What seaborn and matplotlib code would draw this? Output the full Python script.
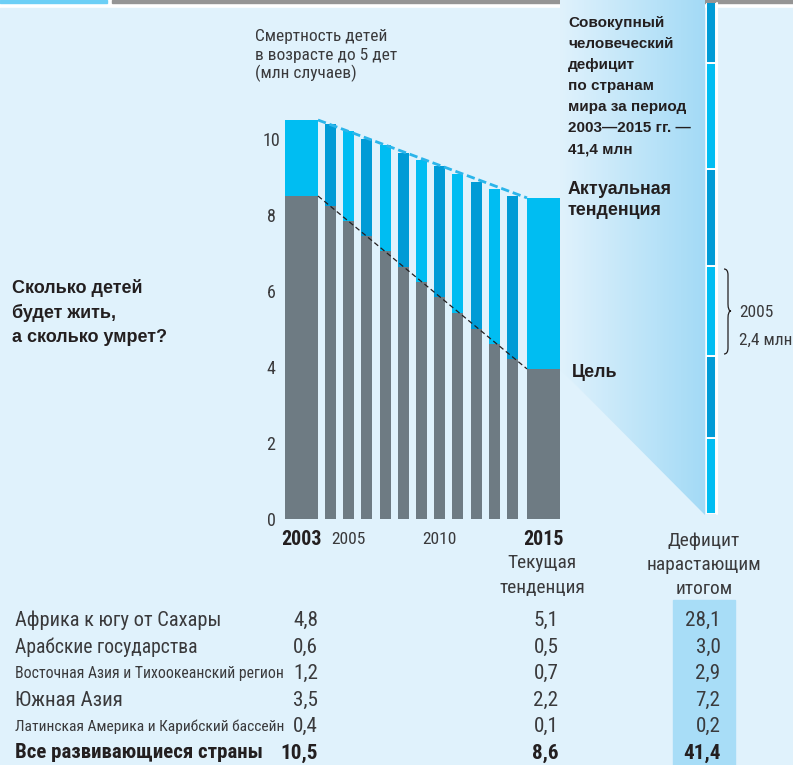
import numpy as np
import pandas as pd
import matplotlib.pyplot as plt
import seaborn as sns
from matplotlib import font_manager
from matplotlib.patches import Rectangle, Polygon, PathPatch
from matplotlib.path import Path
from matplotlib.colors import LinearSegmentedColormap

# Values (млн случаев)
years = list(range(2003, 2016))
actual = [10.5, 10.39, 10.2, 9.99, 9.83, 9.62, 9.46, 9.28, 9.07, 8.88, 8.69, 8.49, 8.45]
goal = [8.5, 8.23, 7.83, 7.44, 7.04, 6.62, 6.23, 5.83, 5.42, 5.01, 4.61, 4.2, 3.95]

regions = ["Африка к югу от Сахары", "Арабские государства",
           "Восточная Азия и Тихоокеанский регион", "Южная Азия",
           "Латинская Америка и Карибский бассейн", "Все развивающиеся страны"]
deaths_2003 = [4.8, 0.6, 1.2, 3.5, 0.4, 10.5]
deaths_2015 = [5.1, 0.5, 0.7, 2.2, 0.1, 8.6]
deficit = [28.1, 3.0, 2.9, 7.2, 0.2, 41.4]

CYAN = "#00BDF2"
DARK = "#009BD6"
GRAY = "#6E7B83"
BG = "#E0F2FC"
INK = "#231F20"
SOFT = "#3A3A3C"

sns.set_theme(style="white")
# the original uses a condensed grotesque
names = {f.name for f in font_manager.fontManager.ttflist}
COND = "Roboto Condensed" if "Roboto Condensed" in names else "Liberation Sans Narrow"
WIDE = "Liberation Sans"
plt.rcParams["font.family"] = [COND, "DejaVu Sans"]

W, H = 793, 765
fig = plt.figure(figsize=(W / 100, H / 100), dpi=100)
renderer = fig.canvas.get_renderer()


def fx(x):
    return x / W


def fy(y):
    return 1 - y / H


def num(v):
    return f"{v:.1f}".replace(".", ",")


def label(x, y, s, size=12, width=None, ha="left", **kw):
    # text placed in pixels; optionally scaled to the width seen in the reference
    t = fig.text(fx(x), fy(y), s, fontsize=size, ha=ha, va="center", **kw)
    if width:
        t.set_fontsize(size * width / t.get_window_extent(renderer).width)
    return t


# background layer in pixel coordinates
bg = fig.add_axes([0, 0, 1, 1])
bg.axis("off")
bg.add_patch(Rectangle((0, 8), W, H - 8, color=BG, zorder=0))
bg.add_patch(Rectangle((0, 0), 107, 3, color="#6CCFF6", zorder=1))
bg.add_patch(Rectangle((112, 0), W - 112, 3, color="#959595", zorder=1))

cmap = LinearSegmentedColormap.from_list("wedge", [BG, "#A3DAF6"])
im = bg.imshow(np.linspace(0, 1, 256).reshape(1, -1), extent=(560, 705, 515, 0),
               cmap=cmap, aspect="auto", zorder=1)
wedge = Polygon([(560, 0), (705, 0), (705, 515), (560, 369)], closed=True,
                facecolor="none", edgecolor="none")
bg.add_patch(wedge)
im.set_clip_path(wedge)

bg.add_patch(Rectangle((673, 600), 62, H - 600, color="#A8DDF7", zorder=1))
bg.plot([716.5, 716.5], [3, 514], color="white", lw=1.5, zorder=2)

brace = Path([(724, 269), (728, 269), (728, 275), (728, 304), (728, 311), (731, 311),
              (728, 311), (728, 318), (728, 348), (728, 354), (724, 354)],
             [Path.MOVETO, Path.CURVE3, Path.CURVE3, Path.LINETO, Path.CURVE3, Path.CURVE3,
              Path.CURVE3, Path.CURVE3, Path.LINETO, Path.CURVE3, Path.CURVE3])
bg.add_patch(PathPatch(brace, facecolor="none", edgecolor=INK, lw=0.9, zorder=2))
bg.set_xlim(0, W)
bg.set_ylim(H, 0)

# main bar chart
unit = 38.0          # px per million
base = 519           # px of the zero line
ymax = 10.8
step = 18.2          # px per year
ax = fig.add_axes([fx(285), fy(base), (560 - 285) / W, ymax * unit / H])
ax.set_facecolor("none")

wide = 33 / step
first_x = years[1] - 29 / step
last_x = years[-2] + 31 / step

mid = pd.DataFrame({"year": years[1:-1], "actual": actual[1:-1], "goal": goal[1:-1]})
mid["shade"] = np.where(mid["year"] % 2 == 0, "dark", "light")
sns.barplot(data=mid, x="year", y="actual", hue="shade",
            palette={"dark": DARK, "light": CYAN}, native_scale=True, width=0.6,
            dodge=False, legend=False, linewidth=0, errorbar=None, saturation=1, ax=ax)
sns.barplot(data=mid, x="year", y="goal", color=GRAY, native_scale=True, width=0.6,
            linewidth=0, errorbar=None, saturation=1, ax=ax)
ax.bar([first_x, last_x], [actual[0], actual[-1]], width=wide, color=CYAN, linewidth=0)
ax.bar([first_x, last_x], [goal[0], goal[-1]], width=wide, color=GRAY, linewidth=0)

ends = [first_x + wide / 2, last_x - wide / 2]
ax.plot(ends, [actual[0], actual[-1]], color="#2BB5EA", lw=2, ls=(0, (3, 1.4)))
ax.plot(ends, [goal[0], goal[-1]], color=INK, lw=0.9, ls=(0, (4, 2.5)))

ax.set_xlim(first_x - wide / 2, last_x + wide / 2)
ax.set_ylim(0, ymax)
ax.set_yticks(range(0, 11, 2))
ax.tick_params(axis="y", length=0, pad=10, labelsize=13, labelcolor=SOFT)
for lbl in ax.get_yticklabels():
    lbl.set_horizontalalignment("center")
ax.set_xticks([first_x, 2005, 2010, last_x], ["2003", "2005", "2010", "2015"])
ax.tick_params(axis="x", length=0, pad=15, labelsize=12.6, labelcolor=SOFT)
for i, lbl in enumerate(ax.get_xticklabels()):
    lbl.set_verticalalignment("center")
    if i in (0, 3):
        lbl.set_fontweight("bold")
        lbl.set_fontsize(14.4)
        lbl.set_color(INK)
ax.set_xlabel("")
ax.set_ylabel("")
ax.grid(False)
sns.despine(ax=ax, left=True, bottom=True)

# cumulative deficit column on the same vertical scale
cum = fig.add_axes([fx(705.7), fy(514), 10 / W, (514 - 3) / H])
gaps = np.array(actual) - np.array(goal)
bottoms = np.concatenate([[0], np.cumsum(gaps)[:-1]])
cum.bar(np.zeros(len(gaps)), gaps, bottom=bottoms, width=1,
        color=[CYAN if y % 2 else DARK for y in years], edgecolor="white", linewidth=1.4)
cum.set_xlim(-0.5, 0.5)
cum.set_ylim(0, (514 - 3) / unit)
cum.axis("off")

# texts around the chart
t = label(255, 37, "Смертность детей", size=12, width=132, color=SOFT)
for y, s in [(55.5, "в возрасте до 5 дет"), (73.5, "(млн случаев)")]:
    label(255, y, s, size=t.get_fontsize(), color=SOFT)

for i, s in enumerate(["Сколько детей", "будет жить,", "а сколько умрет?"]):
    label(12, 288 + 25 * i, s, size=13, fontweight="bold", color=INK, family=WIDE)

block = ["Совокупный", "человеческий", "дефицит", "по странам", "мира за период",
         "2003—2015 гг. —", "41,4 млн"]
for i, s in enumerate(block):
    label(568, 23 + 21.1 * i, s, size=11, fontweight="bold", color=INK, family=WIDE)
label(568, 189, "Актуальная", size=12.8, fontweight="bold", color=INK, family=WIDE)
label(568, 210.5, "тенденция", size=12.8, fontweight="bold", color=INK, family=WIDE)
label(572, 372, "Цель", size=12.8, fontweight="bold", color=INK, family=WIDE)

t = label(739, 312.5, "2005", size=12, width=34, color=SOFT)
label(739, 340, "2,4 млн", size=t.get_fontsize(), color=SOFT)

t = label(704, 565, "нарастающим", size=14, width=115, ha="center", color=SOFT)
label(704, 540.5, "Дефицит", size=t.get_fontsize(), ha="center", color=SOFT)
label(704, 589, "итогом", size=t.get_fontsize(), ha="center", color=SOFT)
label(542, 563, "Текущая", size=t.get_fontsize(), ha="center", color=SOFT)
label(542, 588, "тенденция", size=t.get_fontsize(), ha="center", color=SOFT)

# table
row_y = [620.5, 647, 673.5, 700, 726.5, 753]
name_w = [205, 183, 268, 107, 268, 248]
probe = label(720.5, 620.5, num(deficit[0]), size=14, width=35.5, ha="right")
vs = probe.get_fontsize()
probe.remove()
for i, name in enumerate(regions):
    bold = i == len(regions) - 1
    kw = dict(color=INK if bold else SOFT, fontweight="bold" if bold else "normal")
    label(15, row_y[i], name, size=13, width=name_w[i], **kw)
    label(318, row_y[i], num(deaths_2003[i]), size=vs, ha="right", **kw)
    label(558.5, row_y[i], num(deaths_2015[i]), size=vs, ha="right", **kw)
    label(720.5, row_y[i], num(deficit[i]), size=vs, ha="right", **kw)

fig.savefig("out.png", dpi=100, facecolor="white")
